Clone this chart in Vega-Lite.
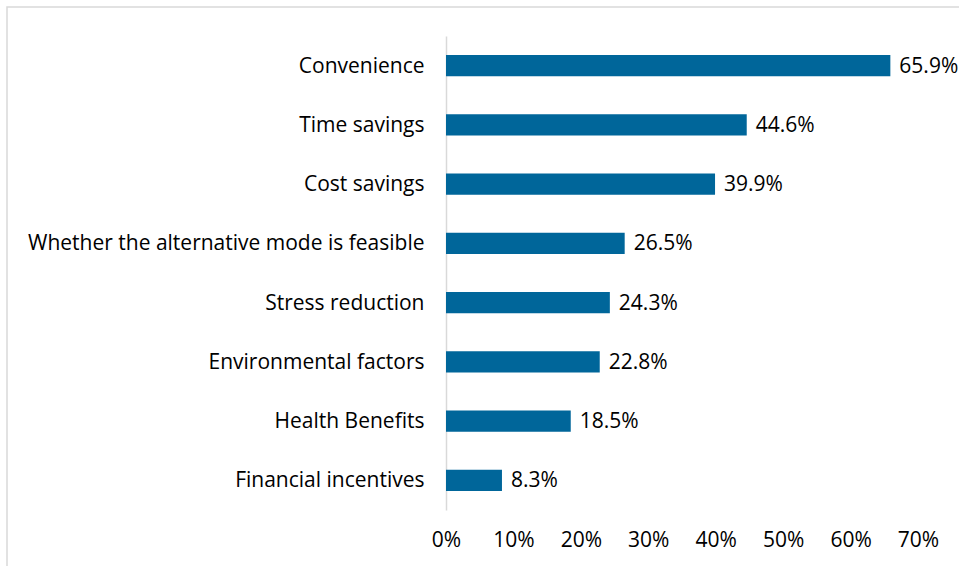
{
  "$schema": "https://vega.github.io/schema/vega-lite/v6.json",
  "autosize": "none",
  "padding": {"left": 7, "top": 7, "right": 0, "bottom": 0},
  "width": 960,
  "height": 570,
  "background": "white",
  "config": {
    "view": {"stroke": "#d9d9d9", "strokeWidth": 1.5},
    "font": "Open Sans"
  },
  "data": {
    "values": [
      {"factor": "Convenience", "share": 0.659},
      {"factor": "Time savings", "share": 0.446},
      {"factor": "Cost savings", "share": 0.399},
      {"factor": "Whether the alternative mode is feasible", "share": 0.265},
      {"factor": "Stress reduction", "share": 0.243},
      {"factor": "Environmental factors", "share": 0.228},
      {"factor": "Health Benefits", "share": 0.185},
      {"factor": "Financial incentives", "share": 0.083}
    ]
  },
  "encoding": {
    "y": {
      "field": "factor",
      "type": "nominal",
      "sort": null,
      "title": null,
      "scale": {"range": [29, 503], "paddingInner": 0.645, "paddingOuter": 0.3225},
      "axis": {
        "offset": -439,
        "ticks": false,
        "domainColor": "#d9d9d9",
        "domainWidth": 1.5,
        "labelPadding": 22,
        "labelOffset": 1,
        "labelFontSize": 21,
        "labelColor": "#000000",
        "labelFont": "Open Sans",
        "labelLimit": 600
      }
    },
    "x": {
      "field": "share",
      "type": "quantitative",
      "title": null,
      "scale": {"domain": [0, 0.7], "range": [439, 911], "nice": false},
      "axis": {
        "values": [0, 0.1, 0.2, 0.3, 0.4, 0.5, 0.6, 0.7],
        "format": ".0%",
        "offset": -67,
        "domain": false,
        "ticks": false,
        "grid": false,
        "labelPadding": 19,
        "labelFontSize": 21,
        "labelColor": "#000000",
        "labelFont": "Open Sans",
        "labelFlush": false
      }
    }
  },
  "layer": [
    {"mark": {"type": "bar", "color": "#00669a"}},
    {
      "mark": {"type": "text", "align": "left", "baseline": "middle", "dx": 9, "dy": 1, "fontSize": 21, "color": "#000000", "font": "Open Sans"},
      "encoding": {"text": {"field": "share", "type": "quantitative", "format": ".1%"}}
    }
  ]
}
